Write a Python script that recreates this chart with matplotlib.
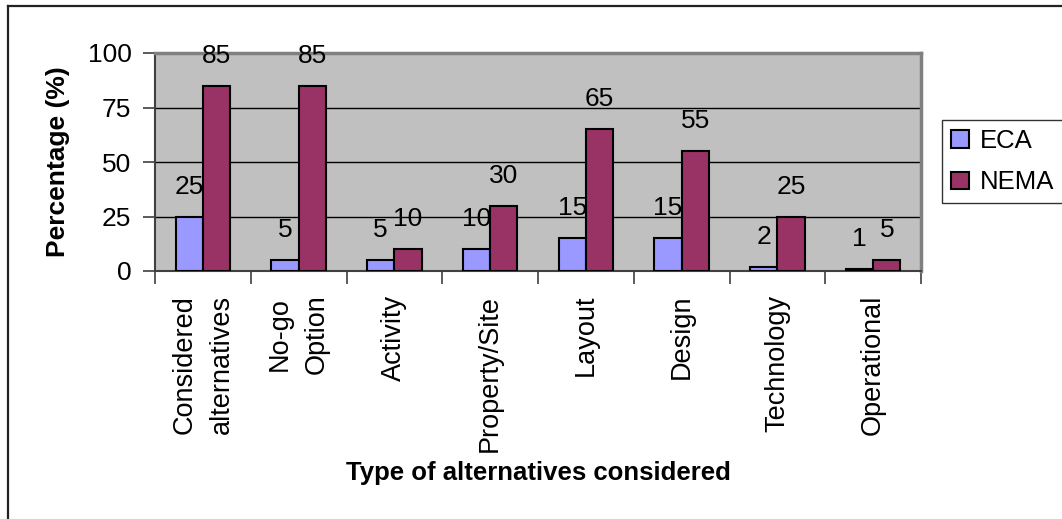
import matplotlib
matplotlib.use("Agg")
import matplotlib.pyplot as plt
import numpy as np
from matplotlib.lines import Line2D

plt.rcParams['font.family'] = ['Liberation Sans', 'DejaVu Sans']

categories = ["Considered\nalternatives", "No-go\nOption", "Activity", "Property/Site",
              "Layout", "Design", "Technology", "Operational"]
eca = [25, 5, 5, 10, 15, 15, 2, 1]
nema = [85, 85, 10, 30, 65, 55, 25, 5]
yticks = [0, 25, 50, 75, 100]

W, H = 1062, 519
fig = plt.figure(figsize=(W / 100, H / 100), dpi=100)
fig.patch.set_facecolor("white")

# plot area in pixel terms
left, right, top, bottom = 155, 921, 53, 271
ax = fig.add_axes([left / W, 1 - bottom / H, (right - left) / W, (bottom - top) / H])
ax.set_facecolor("#C0C0C0")

n = len(categories)
x = np.arange(n)
bw = 1 / 3.5
b1 = ax.bar(x - bw / 2, eca, bw, color="#9999FF", edgecolor="black", linewidth=1.5,
            label="ECA", zorder=3)
b2 = ax.bar(x + bw / 2, nema, bw, color="#993366", edgecolor="black", linewidth=1.5,
            label="NEMA", zorder=3)

for xs, vals in ((x - bw / 2, eca), (x + bw / 2, nema)):
    for xi, v in zip(xs, vals):
        ax.annotate(str(v), (xi, v), xytext=(0, 30), textcoords="offset pixels",
                    ha="center", va="center", fontsize=19, zorder=4)

ax.set_xlim(-0.5, n - 0.5)
ax.set_ylim(0, 100)
ax.set_yticks(yticks)
ax.set_yticklabels([str(t) for t in yticks], fontsize=19)
ax.yaxis.grid(True, color="black", linewidth=1, zorder=1)
ax.set_axisbelow(True)

ax.set_xticks(x)
ax.set_xticklabels(categories, rotation=90, fontsize=19.5, ha="center", va="top",
                   multialignment="center", linespacing=1.55)
ax.set_xticks(np.arange(n + 1) - 0.5, minor=True)
ax.tick_params(axis="x", which="major", length=0, pad=17)
ax.tick_params(axis="x", which="minor", length=9, width=1.2, color="#404040")
ax.tick_params(axis="y", length=9, width=1.2, color="#404040", pad=8)

for s in ("left", "bottom"):
    ax.spines[s].set_color("#404040")
    ax.spines[s].set_linewidth(1.5)
for s in ("top", "right"):
    ax.spines[s].set_color("#808080")
    ax.spines[s].set_linewidth(2.5)

ax.set_ylabel("Percentage (%)", fontsize=19, fontweight="bold")
ax.yaxis.label.set_va("center")
ax.yaxis.set_label_coords((58 - left) / (right - left), 0.5)
ax.set_xlabel("Type of alternatives considered", fontsize=18.5, fontweight="bold")
ax.xaxis.label.set_va("center")
ax.xaxis.set_label_coords(0.5, (bottom - 473) / (bottom - top))

leg = fig.legend(handles=[b1, b2], loc="center",
                 bbox_to_anchor=((945 + 1060) / 2 / W, 1 - 161.5 / H),
                 fontsize=18.5, frameon=True, fancybox=False, shadow=False,
                 handlelength=0.7, handleheight=0.7, handletextpad=0.4,
                 labelspacing=0.7, borderpad=0.35, borderaxespad=0)
leg.get_frame().set_edgecolor("black")
leg.get_frame().set_linewidth(1)

# chart-area border (top and left edges fall inside the canvas)
fig.add_artist(Line2D([8 / W, 1], [1 - 6 / H, 1 - 6 / H], transform=fig.transFigure,
                      color="#222222", linewidth=1.6))
fig.add_artist(Line2D([8 / W, 8 / W], [0, 1 - 6 / H], transform=fig.transFigure,
                      color="#222222", linewidth=1.6))

fig.savefig("out.png", dpi=100)
